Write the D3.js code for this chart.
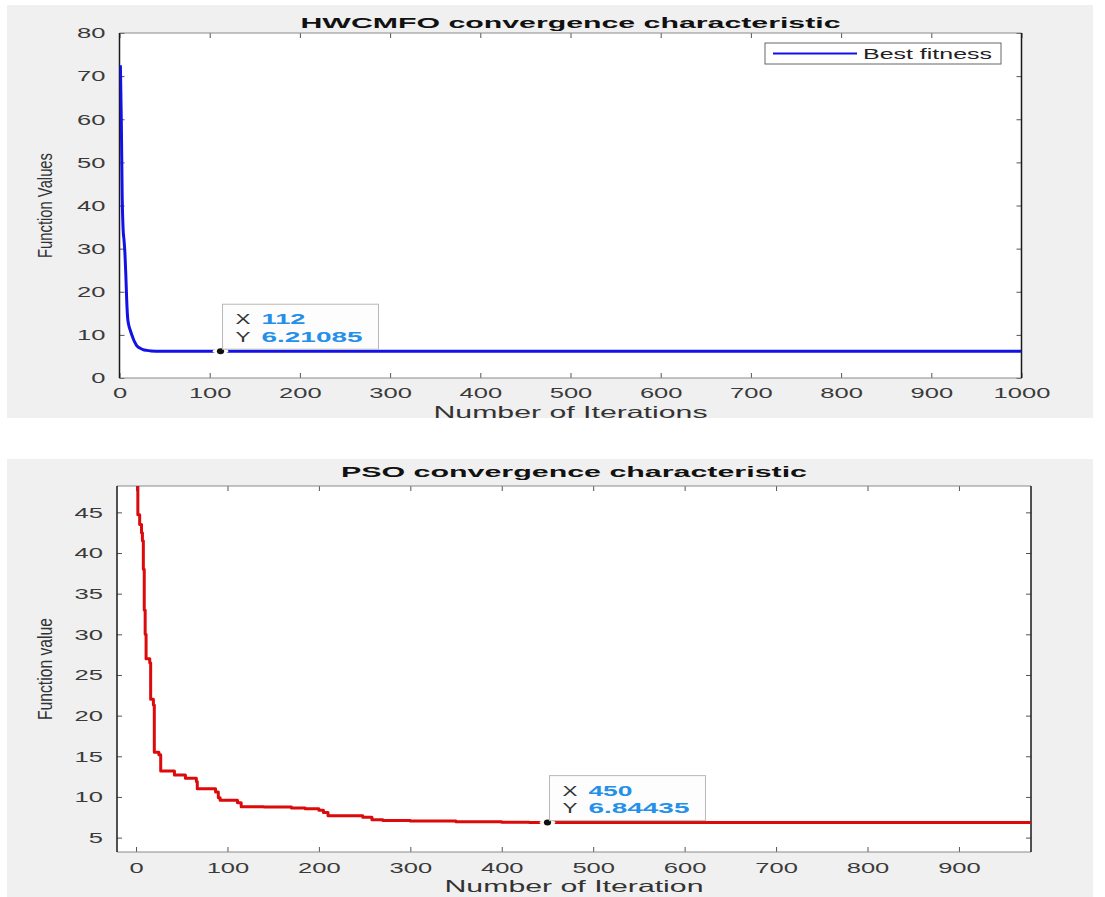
<!DOCTYPE html>
<html>
<head>
<meta charset="utf-8">
<script src="https://cdn.jsdelivr.net/npm/d3@7"></script>
<style>
  html, body { margin: 0; padding: 0; background: #ffffff; }
  svg { display: block; }
  text { font-family: "Liberation Sans", Arial, Helvetica, sans-serif; }
</style>
</head>
<body>
<svg id="fig" width="1105" height="897"></svg>
<script>
// ---- HWCMFO best fitness per iteration ----
const hwIter  = [1, 2, 3, 4, 5, 6, 7, 8, 9, 10, 12, 14, 16, 18, 20, 23, 26, 30, 35, 40, 50, 112, 1000];
const hwValue = [72.5, 60, 42, 34.5, 32, 29, 24, 18, 14, 12.5, 11, 9.8, 8.7, 7.9, 7.3, 6.9, 6.6, 6.4, 6.27, 6.23, 6.215, 6.21085, 6.21085];
const hwXTicks = [0, 100, 200, 300, 400, 500, 600, 700, 800, 900, 1000];
const hwYTicks = [0, 10, 20, 30, 40, 50, 60, 70, 80];
const hwTip = [112, 6.21085];

// ---- PSO best fitness (value holds until the next listed iteration) ----
const psoIter  = [0, 2, 4, 6, 7, 8, 9, 10, 11, 15, 16, 19, 20, 25, 27, 42, 54, 66, 67, 87, 90, 92, 111, 115, 140, 170, 185, 200, 205, 210, 248, 258, 270, 300, 350, 400, 430, 450, 980];
const psoValue = [55, 44.7, 43.5, 42.5, 41.5, 38, 33, 30, 27, 26.5, 22, 21.3, 15.5, 15.2, 13.2, 12.7, 12.3, 11.9, 11.0, 10.6, 9.9, 9.6, 9.3, 8.8, 8.75, 8.65, 8.55, 8.35, 8.1, 7.7, 7.5, 7.2, 7.1, 7.05, 6.95, 6.88, 6.85, 6.84435, 6.84435];
const psoXTicks = [0, 100, 200, 300, 400, 500, 600, 700, 800, 900];
const psoYTicks = [5, 10, 15, 20, 25, 30, 35, 40, 45];
const psoTip = [450, 6.84435];

const svg = d3.select("#fig");
const FONT = '"Liberation Sans", Arial, Helvetica, sans-serif';
const plain = d3.format("d");

function drawPanel(cfg, idx) {
  const g = svg.append("g");
  const [px0, py0, px1, py1] = cfg.panel;
  g.append("rect").attr("x", px0).attr("y", py0)
    .attr("width", px1 - px0).attr("height", py1 - py0).attr("fill", "#f0f0f0");

  const { left, top, right, bottom } = cfg.plot;
  const x = d3.scaleLinear().domain(cfg.xDomain).range([left, right]);
  const y = d3.scaleLinear().domain(cfg.yDomain).range([bottom, top]);

  g.append("rect").attr("x", left).attr("y", top)
    .attr("width", right - left).attr("height", bottom - top).attr("fill", "#ffffff");

  // axes with inward ticks
  const styleTicks = (sel) => {
    sel.select(".domain").remove();
    sel.selectAll(".tick line").attr("stroke", "#555").attr("stroke-width", 1);
    sel.selectAll(".tick text")
      .style("font-family", FONT).style("font-size", "15px").attr("fill", "#3a3a3a")
      .attr("textLength", d => plain(d).length * 14.2)
      .attr("lengthAdjust", "spacingAndGlyphs");
  };
  g.append("g").attr("transform", `translate(0,${bottom})`)
    .call(d3.axisBottom(x).tickValues(cfg.xTicks).tickFormat(plain).tickSize(-5).tickPadding(cfg.xPad))
    .call(styleTicks);
  g.append("g").attr("transform", `translate(0,${top})`)
    .call(d3.axisTop(x).tickValues(cfg.xTicks).tickSize(-5).tickFormat(""))
    .call(styleTicks);
  g.append("g").attr("transform", `translate(${left},0)`)
    .call(d3.axisLeft(y).tickValues(cfg.yTicks).tickFormat(plain).tickSize(-5).tickPadding(14))
    .call(styleTicks);
  g.append("g").attr("transform", `translate(${right},0)`)
    .call(d3.axisRight(y).tickValues(cfg.yTicks).tickSize(-5).tickFormat(""))
    .call(styleTicks);

  // box
  g.append("line").attr("x1", left).attr("x2", right).attr("y1", top).attr("y2", top)
    .attr("stroke", "#8a8a8a").attr("stroke-width", 1);
  g.append("line").attr("x1", left).attr("x2", right).attr("y1", bottom).attr("y2", bottom)
    .attr("stroke", "#8a8a8a").attr("stroke-width", 1);
  g.append("line").attr("x1", left).attr("x2", left).attr("y1", top).attr("y2", bottom)
    .attr("stroke", "#1a1a1a").attr("stroke-width", 1.5);
  g.append("line").attr("x1", right).attr("x2", right).attr("y1", top).attr("y2", bottom)
    .attr("stroke", "#1a1a1a").attr("stroke-width", 1.5);

  // data line
  const clipId = "clip" + idx;
  svg.append("clipPath").attr("id", clipId).append("rect")
    .attr("x", left).attr("y", top).attr("width", right - left).attr("height", bottom - top);
  const pts = cfg.iter.map((it, i) => [it, cfg.value[i]]);
  const line = d3.line().x(d => x(d[0])).y(d => y(d[1])).curve(cfg.curve);
  g.append("path").attr("d", line(pts)).attr("clip-path", `url(#${clipId})`)
    .attr("fill", "none").attr("stroke", cfg.color).attr("stroke-width", cfg.lineWidth)
    .attr("stroke-linejoin", "round").attr("stroke-linecap", "butt");

  // data tip
  const tx = x(cfg.tip[0]), ty = y(cfg.tip[1]);
  g.append("ellipse").attr("cx", tx).attr("cy", ty).attr("rx", 8).attr("ry", 2.6).attr("fill", "#fbfbf2");
  g.append("ellipse").attr("cx", tx).attr("cy", ty).attr("rx", 3.6).attr("ry", 3).attr("fill", "#111");
  const bw = 156, bh = 45;
  const bx = tx + 2, by = ty - 2 - bh;
  g.append("rect").attr("x", bx).attr("y", by).attr("width", bw).attr("height", bh)
    .attr("fill", "#fdfdfd").attr("stroke", "#b8b8b8").attr("stroke-width", 1);
  const tipRows = [["X", String(cfg.tip[0])], ["Y", String(cfg.tip[1])]];
  tipRows.forEach((r, i) => {
    const yy = by + 20 + i * 17.5;
    g.append("text").attr("x", bx + 13).attr("y", yy).text(r[0])
      .style("font-size", "15px").attr("fill", "#333")
      .attr("textLength", 15).attr("lengthAdjust", "spacingAndGlyphs");
    g.append("text").attr("x", bx + 39).attr("y", yy).text(r[1])
      .style("font-size", "15px").style("font-weight", "bold").attr("fill", "#2590ea")
      .attr("textLength", r[1].length === 3 ? 44 : 101).attr("lengthAdjust", "spacingAndGlyphs");
  });

  // titles and labels
  const cx = (left + right) / 2;
  g.append("text").attr("x", cx).attr("y", cfg.titleY).attr("text-anchor", "middle")
    .text(cfg.title).style("font-size", "15.5px").style("font-weight", "bold").attr("fill", "#111")
    .attr("textLength", cfg.titleLen).attr("lengthAdjust", "spacingAndGlyphs");
  g.append("text").attr("x", cx).attr("y", bottom + 40).attr("text-anchor", "middle")
    .text(cfg.xlabel).style("font-size", "16.5px").attr("fill", "#333")
    .attr("textLength", cfg.xlabelLen).attr("lengthAdjust", "spacingAndGlyphs");
  g.append("text").attr("transform", `translate(52,${(top + bottom) / 2}) rotate(-90)`)
    .attr("text-anchor", "middle").text(cfg.ylabel)
    .style("font-size", "20px").attr("fill", "#333")
    .attr("textLength", cfg.ylabelLen).attr("lengthAdjust", "spacingAndGlyphs");

  // legend
  if (cfg.legend) {
    const L = cfg.legend;
    g.append("rect").attr("x", L.x).attr("y", L.y).attr("width", L.w).attr("height", L.h)
      .attr("fill", "#ffffff").attr("stroke", "#666").attr("stroke-width", 1);
    g.append("line").attr("x1", L.x + 8).attr("x2", L.x + 92)
      .attr("y1", L.y + L.h / 2).attr("y2", L.y + L.h / 2)
      .attr("stroke", cfg.color).attr("stroke-width", 2);
    g.append("text").attr("x", L.x + 98).attr("y", L.y + 16).text(L.label)
      .style("font-size", "14.5px").attr("fill", "#222")
      .attr("textLength", 129).attr("lengthAdjust", "spacingAndGlyphs");
  }
}

drawPanel({
  panel: [7, 5, 1093, 418],
  plot: { left: 119.5, top: 33, right: 1021.5, bottom: 378 },
  xDomain: [0, 1000], yDomain: [0, 80],
  xTicks: hwXTicks, yTicks: hwYTicks, xPad: 9,
  iter: hwIter, value: hwValue, color: "#1212e6", lineWidth: 3, curve: d3.curveMonotoneX,
  tip: hwTip,
  title: "HWCMFO convergence characteristic", titleY: 28, titleLen: 540,
  xlabel: "Number of Iterations", xlabelLen: 274,
  ylabel: "Function Values", ylabelLen: 105,
  legend: { x: 765, y: 43, w: 236, h: 21, label: "Best fitness" }
}, 0);

drawPanel({
  panel: [7, 459, 1093, 897],
  plot: { left: 117, top: 486, right: 1031, bottom: 852 },
  xDomain: [-20.8, 978.8], yDomain: [3.23, 48.24],
  xTicks: psoXTicks, yTicks: psoYTicks, xPad: 10,
  iter: psoIter, value: psoValue, color: "#dc0a0a", lineWidth: 3, curve: d3.curveStepAfter,
  tip: psoTip,
  title: "PSO convergence characteristic", titleY: 477, titleLen: 466,
  xlabel: "Number of Iteration", xlabelLen: 259,
  ylabel: "Function value", ylabelLen: 102,
  legend: null
}, 1);
</script>
</body>
</html>
